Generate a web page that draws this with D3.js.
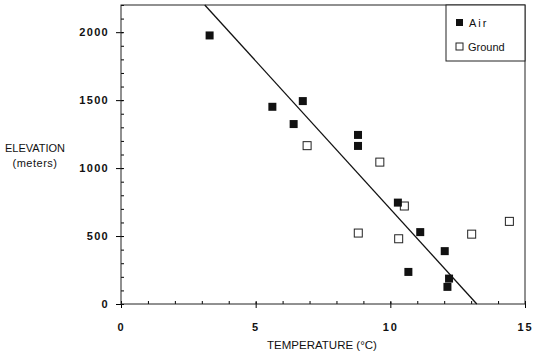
<!DOCTYPE html>
<html>
<head>
<meta charset="utf-8">
<script src="https://cdn.jsdelivr.net/npm/d3@7"></script>
<style>
  body { margin: 0; background: #fff; }
  text { font-family: "Liberation Sans", Arial, sans-serif; fill: #111; }
</style>
</head>
<body>
<div id="chart"></div>
<script>
// Data ////////////////////////////////////////////////////////////////
// Air temperature points (temp in C, elevation in m)
var airTemp = [3.29, 5.62, 6.75, 6.41, 8.80, 8.80, 10.28, 11.11, 12.02, 10.67, 12.18, 12.12];
var airElev = [1976, 1451, 1493, 1324, 1244, 1163, 746, 529, 389, 236, 187, 126];

// Ground temperature points
var groundTemp = [6.91, 9.61, 10.52, 8.81, 10.31, 13.02, 14.42];
var groundElev = [1165, 1044, 721, 522, 480, 514, 608];

// regression line endpoints
var lineTemp = [3.11, 13.21];
var lineElev = [2200, 0];

var xTicks = [0, 5, 10, 15];
var yTicks = [0, 500, 1000, 1500, 2000];
var seriesNames = ["Air", "Ground"];

// Setup ///////////////////////////////////////////////////////////////
var margin = {top: 5, right: 12, bottom: 49, left: 121},
    width = 537 - margin.left - margin.right,
    height = 353 - margin.top - margin.bottom;

var svg = d3.select("#chart")
  .append("svg")
    .attr("width", 537)
    .attr("height", 353)
  .append("g")
    .attr("transform", "translate(" + margin.left + "," + margin.top + ")");

var x = d3.scaleLinear().domain([0, 15]).range([0, width]);
var y = d3.scaleLinear().domain([0, 2200]).range([height, 0]);

// Axes ////////////////////////////////////////////////////////////////
// minor ticks inside the frame
svg.append("g")
  .attr("transform", "translate(0," + height + ")")
  .call(d3.axisTop(x).tickValues(d3.range(0, 16, 1)).tickSize(3).tickFormat(""))
  .call(function(g) { g.select(".domain").remove(); });

svg.append("g")
  .call(d3.axisRight(y).tickValues(d3.range(0, 2201, 100)).tickSize(3).tickFormat(""))
  .call(function(g) { g.select(".domain").remove(); });

// major ticks + labels
var xAxis = svg.append("g")
  .attr("transform", "translate(0," + height + ")")
  .call(d3.axisBottom(x).tickValues(xTicks).tickSize(4).tickPadding(15).tickFormat(d3.format("d")));
xAxis.select(".domain").remove();
xAxis.selectAll("line").attr("y1", -2);
xAxis.selectAll("text")
  .style("font-size", "11px")
  .style("font-weight", "bold")
  .style("letter-spacing", "2px");

var yAxis = svg.append("g")
  .call(d3.axisLeft(y).tickValues(yTicks).tickSize(5).tickPadding(7).tickFormat(d3.format("d")));
yAxis.select(".domain").remove();
yAxis.selectAll("line").attr("x1", 2);
yAxis.selectAll("text")
  .style("font-size", "11px")
  .style("font-weight", "bold")
  .style("letter-spacing", "1.3px");

// frame
svg.append("rect")
  .attr("width", width)
  .attr("height", height)
  .attr("fill", "none")
  .attr("stroke", "#222")
  .attr("stroke-width", 1);

// axis titles
svg.append("text")
  .attr("x", x(7.5) - 1)
  .attr("y", height + 45)
  .style("text-anchor", "middle")
  .style("font-size", "11.5px")
  .text("TEMPERATURE (\u00B0C)");

svg.append("text")
  .attr("x", -86)
  .attr("y", 147)
  .style("text-anchor", "middle")
  .style("font-size", "11px")
  .text("ELEVATION");

svg.append("text")
  .attr("x", -86)
  .attr("y", 162)
  .style("text-anchor", "middle")
  .style("font-size", "11px")
  .style("letter-spacing", "0.5px")
  .text("(meters)");

// Regression line /////////////////////////////////////////////////////
var lineData = lineTemp.map(function(t, i) { return {t: t, e: lineElev[i]}; });
svg.append("path")
  .datum(lineData)
  .attr("fill", "none")
  .attr("stroke", "#111")
  .attr("stroke-width", 1.3)
  .attr("d", d3.line()
    .x(function(d) { return x(d.t); })
    .y(function(d) { return y(d.e); }));

// Points //////////////////////////////////////////////////////////////
var air = airTemp.map(function(t, i) { return {t: t, e: airElev[i]}; });
var ground = groundTemp.map(function(t, i) { return {t: t, e: groundElev[i]}; });

svg.append("g")
  .selectAll("rect")
  .data(ground)
  .enter()
  .append("rect")
    .attr("x", function(d) { return x(d.t) - 4; })
    .attr("y", function(d) { return y(d.e) - 4; })
    .attr("width", 8)
    .attr("height", 8)
    .attr("fill", "#fff")
    .attr("stroke", "#222")
    .attr("stroke-width", 1);

svg.append("g")
  .selectAll("rect")
  .data(air)
  .enter()
  .append("rect")
    .attr("x", function(d) { return x(d.t) - 4; })
    .attr("y", function(d) { return y(d.e) - 4; })
    .attr("width", 8)
    .attr("height", 8)
    .attr("fill", "#111");

// Legend //////////////////////////////////////////////////////////////
var legendBox = svg.append("g")
  .attr("transform", "translate(" + (width - 79) + ",0)");

legendBox.append("rect")
  .attr("width", 79)
  .attr("height", 56)
  .attr("fill", "#fff")
  .attr("stroke", "#222")
  .attr("stroke-width", 1);

var legend = legendBox.selectAll(".legend")
  .data(seriesNames)
  .enter().append("g")
  .attr("class", "legend")
  .attr("transform", function(d, i) { return "translate(0," + (18 + i * 24) + ")"; });

legend.append("rect")
  .attr("x", 10)
  .attr("y", -4)
  .attr("width", 7)
  .attr("height", 7)
  .attr("fill", function(d, i) { return i === 0 ? "#111" : "#fff"; })
  .attr("stroke", function(d, i) { return i === 0 ? "none" : "#222"; });

legend.append("text")
  .attr("x", function(d, i) { return i === 0 ? 23 : 22; })
  .attr("y", 4)
  .style("font-size", "11px")
  .style("letter-spacing", function(d, i) { return i === 0 ? "2px" : "0px"; })
  .text(function(d) { return d; });
</script>
</body>
</html>
